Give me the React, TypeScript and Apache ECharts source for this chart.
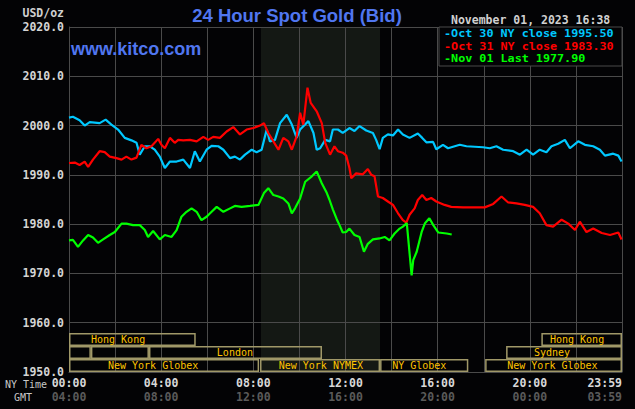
import React, { useEffect, useRef } from 'react';
import * as echarts from 'echarts';

const MONO = '"DejaVu Sans Mono", "Liberation Mono", monospace';

// Oct 30 (cyan)
const oct30Hours = [0, 0.17, 0.46, 0.68, 0.9, 1.33, 1.59, 1.84, 2.13, 2.42, 2.71, 2.93, 3.07, 3.29, 3.51, 3.72, 3.94, 4.16, 4.38, 4.67, 4.96, 5.25, 5.46, 5.68, 5.97, 6.19, 6.48, 6.7, 6.99, 7.2, 7.42, 7.64, 7.93, 8.14, 8.36, 8.58, 8.72, 8.94, 9.16, 9.45, 9.67, 9.88, 10.03, 10.39, 10.61, 10.75, 10.9, 11.12, 11.33, 11.45, 11.67, 11.88, 12.17, 12.39, 12.61, 12.9, 13.19, 13.33, 13.48, 13.62, 13.84, 14.06, 14.28, 14.49, 14.78, 15.14, 15.33, 15.51, 15.8, 15.94, 16.23, 16.45, 16.74, 16.96, 17.25, 17.97, 18.26, 18.55, 18.84, 19.28, 19.57, 19.86, 20.14, 20.43, 20.72, 20.94, 21.23, 21.52, 21.74, 22.1, 22.39, 22.75, 23.04, 23.26, 23.62, 23.84, 23.98];
const oct30Values = [2001.6, 2001.8, 2001.1, 2000.0, 2000.7, 2000.5, 2001.2, 2000.2, 1999.2, 1997.5, 1997.0, 1996.5, 1994.1, 1995.8, 1995.8, 1995.1, 1993.7, 1991.4, 1992.7, 1992.7, 1993.1, 1991.4, 1994.8, 1992.7, 1995.1, 1995.9, 1995.8, 1995.1, 1993.4, 1993.7, 1993.1, 1994.1, 1995.1, 1994.6, 1995.1, 1999.2, 1996.8, 1997.1, 2000.5, 2002.2, 2000.2, 1997.5, 1999.2, 2000.9, 1998.5, 1995.1, 1995.4, 1997.1, 1996.8, 1999.2, 1999.2, 1998.5, 1999.5, 1998.9, 1999.9, 1999.0, 1998.5, 1997.1, 1995.2, 1997.5, 1998.2, 1998.0, 1999.2, 1998.2, 1997.5, 1998.4, 1997.5, 1996.6, 1996.7, 1995.2, 1996.1, 1995.4, 1995.8, 1996.1, 1995.8, 1995.6, 1995.4, 1995.8, 1995.1, 1994.8, 1994.1, 1995.1, 1994.1, 1995.1, 1994.6, 1995.8, 1996.3, 1997.1, 1995.4, 1996.8, 1996.1, 1995.8, 1995.1, 1993.9, 1994.3, 1993.9, 1992.7];

// Oct 31 (red)
const oct31Hours = [0, 0.25, 0.46, 0.68, 0.83, 1.04, 1.33, 1.55, 1.77, 2.06, 2.28, 2.49, 2.71, 2.93, 3.14, 3.36, 3.58, 3.87, 4.01, 4.16, 4.38, 4.59, 4.74, 4.96, 5.25, 5.54, 5.83, 6.04, 6.26, 6.55, 6.84, 7.13, 7.42, 7.71, 8.0, 8.29, 8.46, 8.65, 8.87, 9.09, 9.3, 9.52, 9.67, 9.88, 10.03, 10.17, 10.35, 10.49, 10.75, 10.97, 11.12, 11.33, 11.52, 11.67, 11.88, 12.03, 12.17, 12.25, 12.46, 12.75, 12.97, 13.12, 13.26, 13.41, 13.62, 13.84, 14.06, 14.28, 14.49, 14.64, 14.78, 15.0, 15.14, 15.33, 15.51, 15.72, 15.94, 16.3, 16.59, 17.1, 18.04, 18.41, 18.77, 19.06, 19.42, 19.78, 20.14, 20.43, 20.72, 21.01, 21.38, 21.67, 21.96, 22.17, 22.46, 22.75, 23.12, 23.48, 23.84, 23.98];
const oct31Values = [1992.4, 1992.5, 1992.0, 1992.7, 1991.6, 1993.1, 1994.8, 1994.6, 1993.7, 1993.4, 1993.1, 1993.7, 1993.1, 1993.5, 1996.1, 1995.4, 1995.8, 1997.3, 1996.1, 1995.4, 1997.5, 1996.5, 1997.1, 1997.0, 1997.1, 1996.8, 1997.7, 1997.1, 1997.7, 1997.5, 1998.8, 1999.7, 1998.2, 1999.2, 1999.5, 2000.0, 2000.5, 1998.5, 1996.8, 1995.1, 1997.5, 1996.8, 1995.1, 1997.8, 2002.6, 2000.2, 2007.7, 2004.6, 2002.9, 2000.5, 1996.5, 1994.1, 1995.8, 1994.8, 1994.5, 1993.9, 1991.4, 1989.3, 1990.3, 1990.1, 1991.2, 1990.0, 1989.7, 1985.6, 1985.3, 1984.6, 1983.9, 1982.2, 1980.8, 1980.3, 1981.9, 1983.2, 1984.9, 1985.9, 1984.9, 1985.3, 1984.6, 1983.9, 1983.5, 1983.4, 1983.4, 1984.1, 1985.6, 1984.4, 1984.2, 1983.9, 1983.5, 1982.2, 1979.8, 1979.5, 1980.9, 1980.1, 1978.8, 1980.5, 1978.4, 1979.1, 1978.2, 1977.8, 1978.3, 1976.9];

// Nov 01 (green)
const nov01Hours = [0, 0.17, 0.39, 0.61, 0.83, 1.04, 1.26, 1.48, 1.77, 1.99, 2.28, 2.49, 2.78, 3.07, 3.29, 3.43, 3.65, 3.94, 4.16, 4.45, 4.67, 4.88, 5.1, 5.32, 5.54, 5.75, 5.97, 6.19, 6.41, 6.7, 6.99, 7.2, 7.49, 7.86, 8.22, 8.46, 8.65, 8.87, 9.09, 9.3, 9.52, 9.67, 9.81, 10.03, 10.25, 10.54, 10.75, 10.97, 11.19, 11.3, 11.45, 11.62, 11.77, 11.88, 12.03, 12.17, 12.39, 12.61, 12.8, 12.97, 13.19, 13.48, 13.7, 13.91, 14.13, 14.35, 14.49, 14.66, 14.87, 14.94, 15.09, 15.31, 15.45, 15.64, 15.81, 16.03, 16.39, 16.61];
const nov01Values = [1976.7, 1976.8, 1975.4, 1976.7, 1977.8, 1977.3, 1976.2, 1976.9, 1977.8, 1978.4, 1980.1, 1980.1, 1979.8, 1979.8, 1978.8, 1977.4, 1978.6, 1976.9, 1977.8, 1977.4, 1978.8, 1981.5, 1982.5, 1983.2, 1982.5, 1980.8, 1981.5, 1982.5, 1983.5, 1982.5, 1983.2, 1983.7, 1983.5, 1983.7, 1983.9, 1986.3, 1987.3, 1985.9, 1985.6, 1985.2, 1984.2, 1982.2, 1983.2, 1985.2, 1988.6, 1989.7, 1990.7, 1988.3, 1986.3, 1985.0, 1983.0, 1981.0, 1979.5, 1978.3, 1978.4, 1979.1, 1977.8, 1977.4, 1974.4, 1976.0, 1976.9, 1977.1, 1977.4, 1976.7, 1978.1, 1979.1, 1979.5, 1980.2, 1969.6, 1972.7, 1974.4, 1978.5, 1980.2, 1981.2, 1979.8, 1978.3, 1978.1, 1977.9];

const legendLabels = ['-Oct 30 NY close 1995.50', '-Oct 31 NY close 1983.30', '-Nov 01 Last 1977.90'];
const seriesColors = ['#00c8ff', '#ff0000', '#00ff00'];

// NYMEX shaded period (NY hours)
const nymexShade = [8.33, 13.5];

// Trading session boxes
const sessionStart = [0, 20.5, 0, 0.95, 3.47, 18.97, 0, 8.29, 13.5, 18.06];
const sessionEnd = [5.5, 24, 0.95, 3.47, 10.98, 24, 8.25, 13.5, 17.33, 24];
const sessionRow = [0, 0, 1, 1, 1, 1, 2, 2, 2, 2];
const sessionLabel = ['Hong Kong', 'Hong Kong', '', '', 'London', 'Sydney', 'New York Globex', 'New York NYMEX', 'NY Globex', 'New York Globex'];
const sessionLabelAt = [2.13, 22.05, 0, 0, 7.2, 20.96, 3.65, 10.93, 15.2, 20.98];
const rowTop = [1957.9, 1955.3, 1952.65];
const rowBottom = [1955.3, 1952.65, 1950];

const yTicks = [1950, 2020, 10];

const pad = (n: number) => (n < 10 ? '0' + n : '' + n);
const nyFmt = (v: number) => (v === 24 ? '23:59' : v % 4 === 0 ? pad(v) + ':00' : '');
const gmtFmt = (v: number) => (v === 24 ? '03:59' : v % 4 === 0 ? pad((v + 4) % 24) + ':00' : '');

const zip = (h: number[], v: number[]) => h.map((x, i) => [x, v[i]]);

export default function App() {
  const ref = useRef<HTMLDivElement>(null);
  useEffect(() => {
    const chart = echarts.init(ref.current!, null, { renderer: 'svg' });
    const gridLine = '#4a4a4a';
    const blue = '#5076f0';
    const option: any = {
      animation: false,
      backgroundColor: '#030305',
      grid: { left: 69, right: 13, top: 27, bottom: 37 },
      xAxis: [
        {
          type: 'value', min: 0, max: 24, interval: 2, position: 'bottom',
          axisLine: { show: true, lineStyle: { color: gridLine } },
          axisTick: { show: false },
          splitLine: { show: true, lineStyle: { color: gridLine, width: 1 } },
          axisLabel: {
            formatter: nyFmt, color: '#d8d8d8', fontFamily: MONO, fontSize: 11.5, fontWeight: 'bold',
            margin: 5, showMinLabel: true, showMaxLabel: true, alignMaxLabel: 'right',
          },
        },
        {
          type: 'value', min: 0, max: 24, interval: 2, position: 'bottom', offset: 14,
          axisLine: { show: false }, axisTick: { show: false }, splitLine: { show: false },
          axisLabel: {
            formatter: gmtFmt, color: '#5a5a5a', fontFamily: MONO, fontSize: 11.5, fontWeight: 'bold',
            margin: 5, showMinLabel: true, showMaxLabel: true, alignMaxLabel: 'right',
          },
        },
      ],
      yAxis: {
        type: 'value', min: yTicks[0], max: yTicks[1], interval: yTicks[2],
        axisLine: { show: true, lineStyle: { color: gridLine } },
        axisTick: { show: false },
        splitLine: { show: true, lineStyle: { color: gridLine, width: 1 } },
        axisLabel: {
          formatter: (v: number) => v.toFixed(1), color: '#d4d4d4', fontFamily: MONO,
          fontSize: 11.5, fontWeight: 'bold', margin: 5,
        },
      },
      graphic: [
        {
          type: 'rect', z: 5, shape: { x: 439, y: 27, width: 183, height: 39 },
          style: { fill: '#030305', stroke: gridLine, lineWidth: 1 },
        },
        ...legendLabels.map((t, i) => ({
          type: 'text', z: 6, x: 444, y: 34 + i * 12.3, scaleX: 1.12,
          style: { text: t, fill: seriesColors[i], font: `bold 10.5px ${MONO}`, align: 'left', verticalAlign: 'middle', textAlign: 'left', textVerticalAlign: 'middle' },
        })),
        {
          type: 'text', z: 6, x: 297, y: 15.5,
          style: { text: '24 Hour Spot Gold (Bid)', fill: blue, font: 'bold 18.5px "Liberation Sans", Arial, sans-serif', align: 'center', verticalAlign: 'middle', textAlign: 'center', textVerticalAlign: 'middle' },
        },
        {
          type: 'text', z: 6, x: 71, y: 48.5,
          style: { text: 'www.kitco.com', fill: blue, font: 'bold 18px "Liberation Sans", Arial, sans-serif', align: 'left', verticalAlign: 'middle', textAlign: 'left', textVerticalAlign: 'middle' },
        },
        {
          type: 'text', z: 6, x: 451, y: 20,
          style: { text: 'November 01, 2023 16:38', fill: '#d0d0d0', font: `bold 11.5px ${MONO}`, align: 'left', verticalAlign: 'middle', textAlign: 'left', textVerticalAlign: 'middle' },
        },
        {
          type: 'text', z: 6, x: 64, y: 13,
          style: { text: 'USD/oz', fill: '#d0d0d0', font: `bold 11.5px ${MONO}`, align: 'right', verticalAlign: 'middle', textAlign: 'right', textVerticalAlign: 'middle' },
        },
        {
          type: 'text', z: 6, x: 5, y: 384,
          style: { text: 'NY Time', fill: '#c8c8c8', font: `10px ${MONO}`, align: 'left', verticalAlign: 'middle', textAlign: 'left', textVerticalAlign: 'middle' },
        },
        {
          type: 'text', z: 6, x: 14, y: 397,
          style: { text: 'GMT', fill: '#c8c8c8', font: `10px ${MONO}`, align: 'left', verticalAlign: 'middle', textAlign: 'left', textVerticalAlign: 'middle' },
        },
      ],
      series: [
        {
          type: 'custom', z: -1, silent: true,
          data: [nymexShade],
          renderItem: (params: any, api: any) => {
            const s = api.coord([api.value(0), yTicks[1]]);
            const e = api.coord([api.value(1), yTicks[0]]);
            return { type: 'rect', shape: { x: s[0], y: s[1], width: e[0] - s[0], height: e[1] - s[1] }, style: { fill: '#141814' } };
          },
        },
        ...[zip(oct30Hours, oct30Values), zip(oct31Hours, oct31Values), zip(nov01Hours, nov01Values)].map((d, i) => ({
          type: 'line', data: d, showSymbol: false, symbol: 'none', z: 3,
          lineStyle: { color: seriesColors[i], width: 2.2 },
        })),
        {
          type: 'custom', z: 4, silent: true,
          data: sessionStart.map((s, i) => [s, sessionEnd[i], sessionRow[i], sessionLabelAt[i], i]),
          renderItem: (params: any, api: any) => {
            const i = api.value(4);
            const r = api.value(2);
            const p1 = api.coord([api.value(0), rowTop[r]]);
            const p2 = api.coord([api.value(1), rowBottom[r]]);
            const lp = api.coord([api.value(3), (rowTop[r] + rowBottom[r]) / 2]);
            return {
              type: 'group',
              children: [
                { type: 'rect', shape: { x: p1[0] + 0.75, y: p1[1] + 0.75, width: p2[0] - p1[0] - 1.5, height: p2[1] - p1[1] - 1.5 }, style: { fill: 'none', stroke: '#a09868', lineWidth: 1.5 } },
                { type: 'text', x: lp[0], y: lp[1] + 0.5, style: { text: sessionLabel[i], fill: '#ffc400', font: `10px ${MONO}`, align: 'center', verticalAlign: 'middle', textAlign: 'center', textVerticalAlign: 'middle' } },
              ],
            };
          },
        },
      ],
    };
    chart.setOption(option);
    return () => chart.dispose();
  }, []);
  return <div ref={ref} style={{ position: 'fixed', left: 0, top: 0, width: 635, height: 409, background: '#030305' }} />;
}
